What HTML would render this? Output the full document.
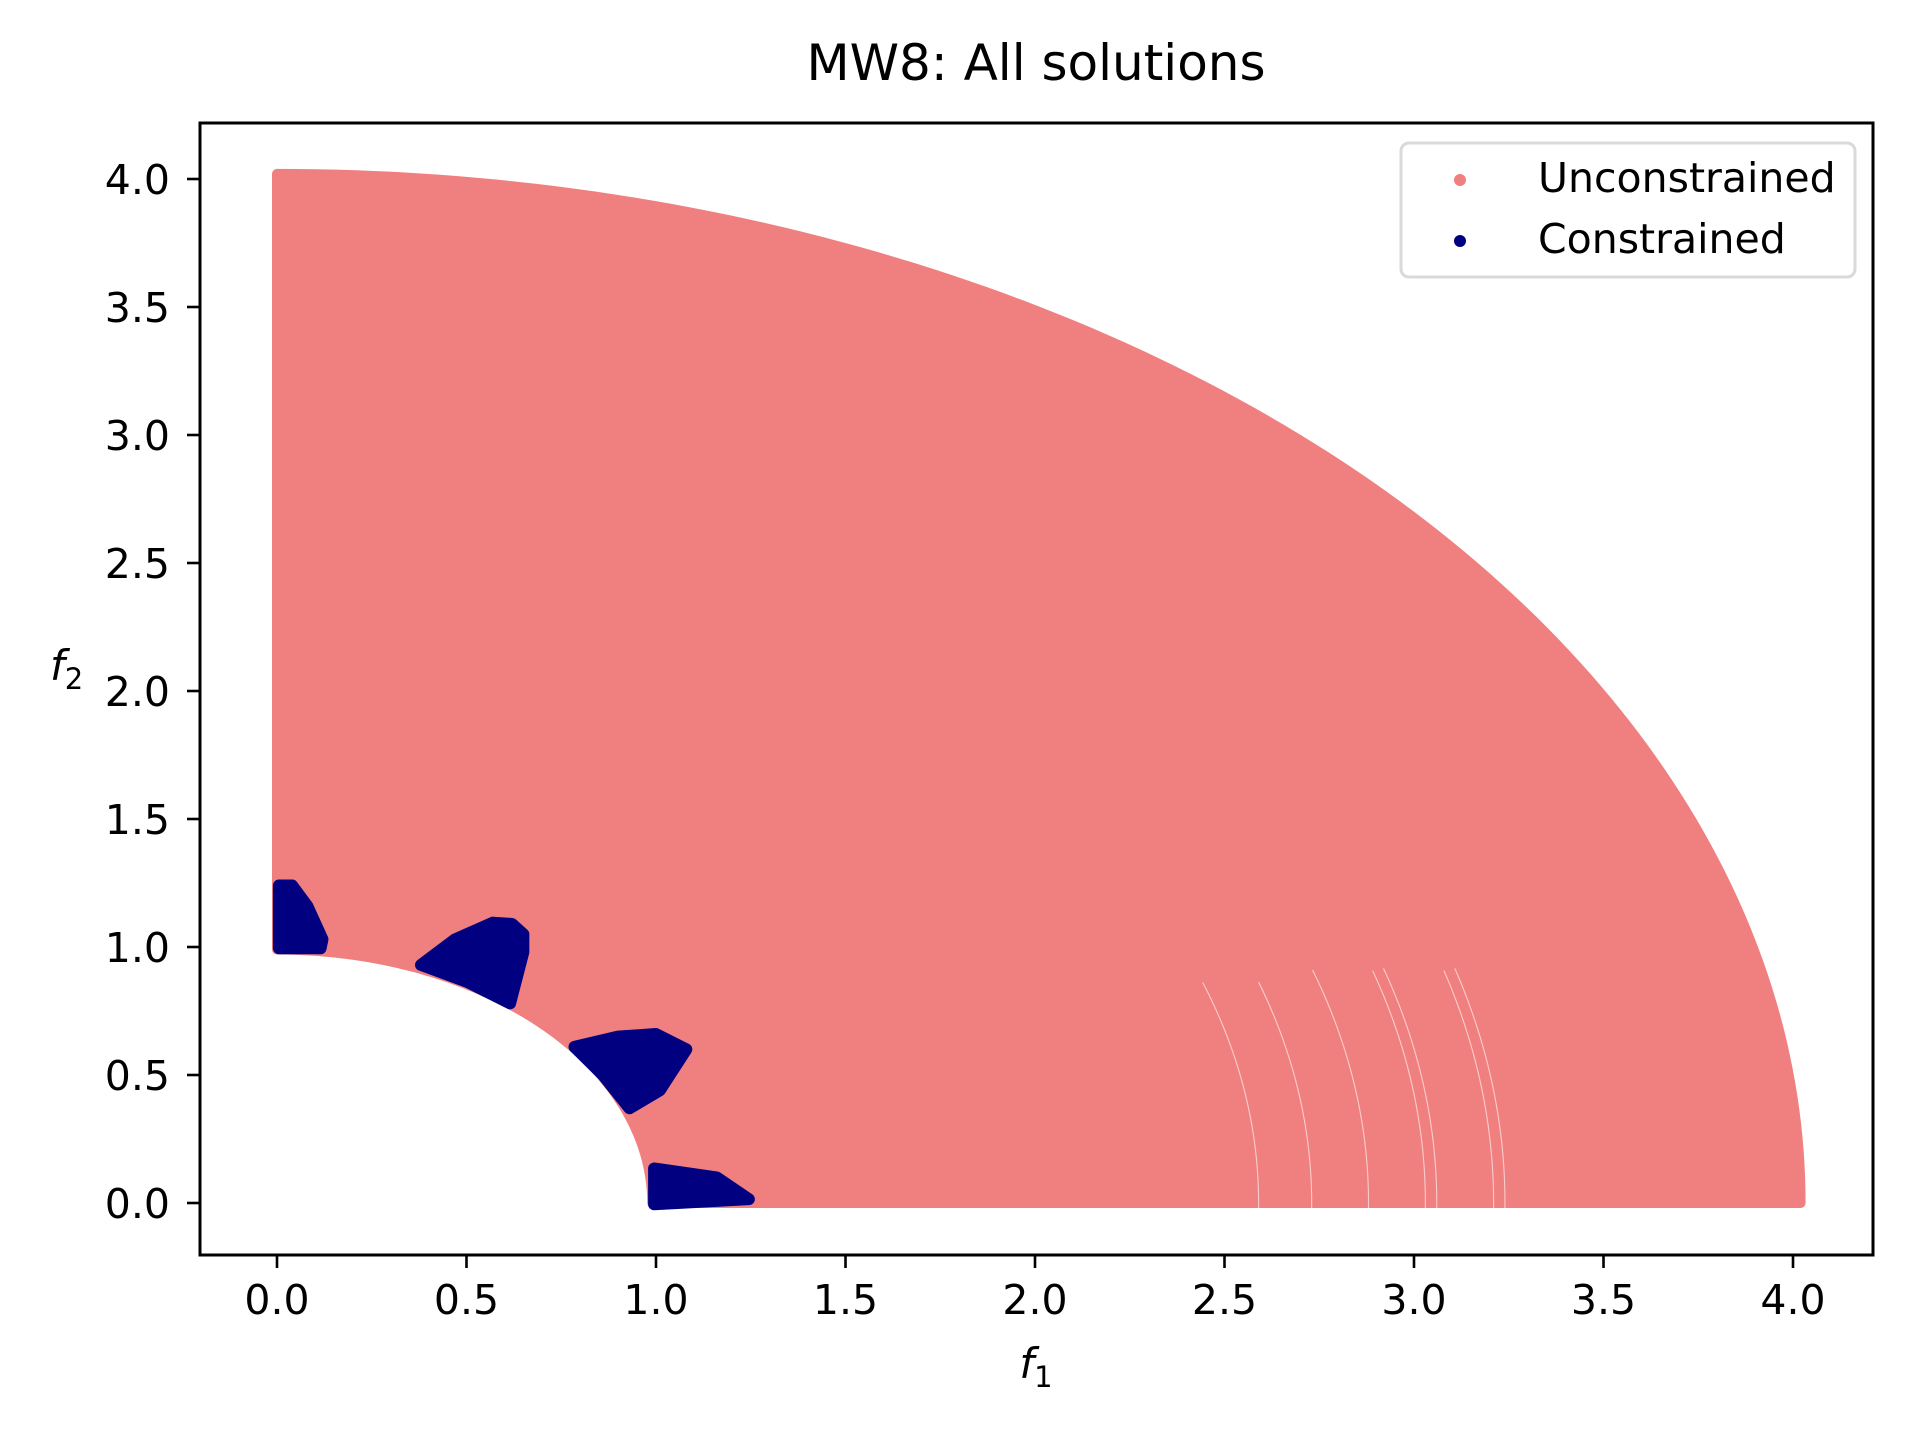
<!DOCTYPE html>
<html><head><meta charset="utf-8"><style>
html,body{margin:0;padding:0;background:#fff}
svg{display:block}
text{font-family:"DejaVu Sans","Liberation Sans",sans-serif;fill:#000}
</style></head><body>
<svg id="chart" width="1920" height="1440" viewBox="0 0 1920 1440" xmlns="http://www.w3.org/2000/svg">
<rect width="1920" height="1440" fill="#fff"/>
<text x="1036" y="80" font-size="50" text-anchor="middle">MW8: All solutions</text>
<g id="plot"></g>
<g id="axes"></g>
<text x="1036" y="1378" font-size="42" font-style="italic" text-anchor="middle">f<tspan font-size="29" dy="9" font-style="normal">1</tspan></text>
<text x="50" y="680" font-size="42" font-style="italic">f<tspan font-size="29" dy="9" font-style="normal">2</tspan></text>
<g>
<rect x="1401" y="143" width="454" height="134" rx="8" fill="#fff" fill-opacity="0.8" stroke="#d9d9d9" stroke-width="3"/>
<circle cx="1460" cy="180" r="6" fill="#F08080"/>
<text x="1538" y="192" font-size="41">Unconstrained</text>
<circle cx="1460" cy="241" r="6" fill="#000080"/>
<text x="1538" y="253" font-size="41">Constrained</text>
</g>
</svg>
<script>
const xTicks = [0.0, 0.5, 1.0, 1.5, 2.0, 2.5, 3.0, 3.5, 4.0];
const yTicks = [0.0, 0.5, 1.0, 1.5, 2.0, 2.5, 3.0, 3.5, 4.0];
const xTickLabels = ["0.0","0.5","1.0","1.5","2.0","2.5","3.0","3.5","4.0"];
const yTickLabels = ["0.0","0.5","1.0","1.5","2.0","2.5","3.0","3.5","4.0"];
const regionInnerRadius = [0.99];
const regionOuterRadius = [4.02];
const gapRadii = [2.59, 2.73, 2.88, 3.03, 3.06, 3.21, 3.24];
const gapMaxAngleDeg = [20, 19, 19, 18, 18, 17, 17];
const blob1 = [[0.005,1.24],[0.04,1.24],[0.08,1.16],[0.12,1.03],[0.115,0.995],[0.005,0.995]];
const blob2 = [[0.38,0.93],[0.47,1.03],[0.57,1.095],[0.62,1.09],[0.65,1.05],[0.65,0.98],[0.615,0.78],[0.5,0.865]];
const blob3 = [[0.785,0.61],[0.9,0.65],[1.0,0.66],[1.08,0.6],[1.01,0.44],[0.93,0.37],[0.86,0.5]];
const blob4 = [[0.995,0.135],[1.16,0.1],[1.245,0.015],[0.995,-0.005],[0.995,0.07]];

const NS="http://www.w3.org/2000/svg";
const X0=277, XS=379, Y0=1203, YS=256;
const L=200, R=1873, T=123, B=1255;
function sx(v){return X0+XS*v;}
function sy(v){return Y0-YS*v;}
function mk(tag,attrs,parent){const e=document.createElementNS(NS,tag);for(const k in attrs)e.setAttribute(k,attrs[k]);parent.appendChild(e);return e;}
const plot=document.getElementById('plot');
const axes=document.getElementById('axes');

const ri=regionInnerRadius[0], ro=regionOuterRadius[0];
let d='';
const N=120;
for(let i=0;i<=N;i++){const a=Math.PI/2*i/N;d+=(i?'L':'M')+sx(ro*Math.cos(a))+','+sy(ro*Math.sin(a));}
for(let i=N;i>=0;i--){const a=Math.PI/2*i/N;d+='L'+sx(ri*Math.cos(a))+','+sy(ri*Math.sin(a));}
d+='Z';
const reg=mk('path',{d:d,fill:'#F08080',stroke:'#F08080','stroke-width':10,'stroke-linejoin':'round'},plot);



gapRadii.forEach((r,i)=>{
  let g='';const M=40;const amax=gapMaxAngleDeg[i]*Math.PI/180;
  for(let j=0;j<=M;j++){const a=-0.01+amax*j/M;g+=(j?'L':'M')+sx(r*Math.cos(a))+','+sy(r*Math.sin(a));}
  const p=mk('path',{d:g,fill:'none',stroke:'#fff','stroke-width':1.1,'stroke-opacity':0.6},plot);
  
  
});

[blob1,blob2,blob3,blob4].forEach((b,i)=>{
  const pts=b.map(p=>sx(p[0])+','+sy(p[1])).join(' ');
  const p=mk('polygon',{points:pts,fill:'#000080',stroke:'#000080','stroke-width':12,'stroke-linejoin':'round'},plot);
  
  
});

const fr=mk('rect',{x:L,y:T,width:R-L,height:B-T,fill:'none',stroke:'#000','stroke-width':3},axes);



xTicks.forEach((v,i)=>{
  const t=mk('line',{x1:sx(v),x2:sx(v),y1:B,y2:B+13,stroke:'#000','stroke-width':2.6},axes);
  
  
  const l=mk('text',{x:sx(v),y:1314,'font-size':41,'text-anchor':'middle'},axes);
  l.textContent=xTickLabels[i];
  
  
});
yTicks.forEach((v,i)=>{
  const t=mk('line',{x1:L-13,x2:L,y1:sy(v),y2:sy(v),stroke:'#000','stroke-width':2.6},axes);
  
  
  const l=mk('text',{x:170,y:sy(v)+15,'font-size':41,'text-anchor':'end'},axes);
  l.textContent=yTickLabels[i];
  
  
});
</script>
</body></html>
